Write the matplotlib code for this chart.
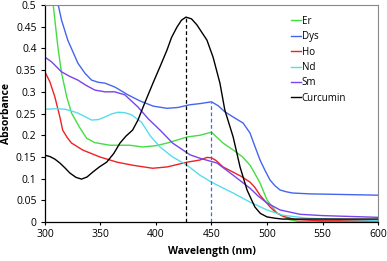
import numpy as np
import matplotlib.pyplot as plt

plt.rcParams['font.family'] = ['Open Sans', 'DejaVu Sans']

# wavelength (nm) / absorbance
er_x = [300, 304, 307.5, 309, 311.7, 315, 319.7, 324, 331.5, 337.6, 345, 358.6, 376.6, 388, 400, 410, 428, 439.6, 450, 460.4, 469.5, 478, 484.7, 489, 493.7, 500, 509, 520.7, 530, 550, 600]
er_y = [0.67, 0.56, 0.50, 0.465, 0.403, 0.343, 0.288, 0.251, 0.217, 0.193, 0.183, 0.177, 0.177, 0.173, 0.176, 0.182, 0.196, 0.200, 0.207, 0.182, 0.166, 0.150, 0.131, 0.112, 0.09, 0.051, 0.021, 0.005, 0.001, 0.002, 0.003]

dys_x = [300, 306, 312, 315, 320.6, 329.7, 336, 342, 348, 354, 363, 374.8, 385.6, 397.6, 410, 420, 430, 440, 450, 456, 462, 469.5, 478.5, 484.7, 489, 493.7, 498, 502.7, 507, 511.7, 517, 523, 538.7, 560, 580, 600]
dys_y = [0.60, 0.55, 0.50, 0.465, 0.419, 0.366, 0.343, 0.327, 0.322, 0.32, 0.311, 0.293, 0.279, 0.267, 0.262, 0.264, 0.27, 0.273, 0.277, 0.268, 0.254, 0.242, 0.228, 0.205, 0.175, 0.143, 0.12, 0.097, 0.084, 0.074, 0.07, 0.067, 0.065, 0.064, 0.063, 0.062]

ho_x = [300, 304.5, 309, 313.5, 316, 320, 324, 334, 349.5, 365, 379, 397, 410, 428, 439.6, 446, 450, 454, 460.4, 469.5, 477, 484.7, 489, 493.7, 502.7, 508, 514, 525, 550, 600]
ho_y = [0.346, 0.323, 0.288, 0.242, 0.212, 0.195, 0.182, 0.166, 0.150, 0.138, 0.131, 0.124, 0.127, 0.138, 0.143, 0.149, 0.148, 0.142, 0.127, 0.115, 0.105, 0.092, 0.08, 0.062, 0.035, 0.022, 0.014, 0.006, 0.003, 0.003]

nd_x = [300, 310, 318, 324, 329.7, 336, 342, 348, 354, 360, 365.8, 372, 378, 387, 395, 403.6, 415, 428, 439.6, 450, 460, 469.5, 484.7, 500, 514, 536, 570, 600]
nd_y = [0.26, 0.261, 0.26, 0.256, 0.251, 0.243, 0.235, 0.236, 0.242, 0.249, 0.253, 0.252, 0.247, 0.23, 0.198, 0.173, 0.15, 0.131, 0.108, 0.092, 0.079, 0.067, 0.046, 0.028, 0.016, 0.009, 0.006, 0.004]

sm_x = [300, 306, 315, 322, 329.7, 337, 345, 354, 363, 372, 383.8, 393, 403.6, 415, 430.6, 439.6, 455, 469.5, 484.7, 492, 500, 511.7, 529.7, 550, 575, 600]
sm_y = [0.38, 0.369, 0.346, 0.336, 0.327, 0.315, 0.304, 0.30, 0.30, 0.293, 0.265, 0.238, 0.212, 0.182, 0.155, 0.147, 0.136, 0.108, 0.078, 0.06, 0.044, 0.028, 0.018, 0.015, 0.013, 0.011]

cur_x = [300, 304.5, 309, 313.5, 318, 322.5, 328, 333, 338, 343, 349, 355.6, 362, 367.6, 373, 379, 383.8, 390, 397.3, 404, 409.9, 414, 418.9, 423, 427, 432, 436.9, 441, 445.9, 451.4, 457.6, 462, 469.5, 475.7, 482, 489, 494, 500, 507, 514, 530, 550, 600]
cur_y = [0.154, 0.151, 0.145, 0.136, 0.125, 0.113, 0.103, 0.099, 0.104, 0.115, 0.127, 0.138, 0.158, 0.182, 0.198, 0.212, 0.235, 0.275, 0.32, 0.36, 0.396, 0.425, 0.449, 0.465, 0.472, 0.468, 0.454, 0.438, 0.419, 0.38, 0.32, 0.258, 0.196, 0.127, 0.074, 0.035, 0.02, 0.012, 0.009, 0.007, 0.007, 0.007, 0.007]

peak_cur = (427, 0.472)
peak_dys = (450, 0.277)

fig = plt.figure(figsize=(3.87, 2.61), dpi=100)
ax = fig.add_axes([0.116, 0.149, 0.861, 0.832])

ax.plot(er_x, er_y, color='#44dd44', lw=1, label='Er')
ax.plot(dys_x, dys_y, color='#4466ee', lw=1, label='Dys')
ax.plot(ho_x, ho_y, color='#ee2222', lw=1, label='Ho')
ax.plot(nd_x, nd_y, color='#55ddee', lw=1, label='Nd')
ax.plot(sm_x, sm_y, color='#7744ee', lw=1, label='Sm')
ax.plot(cur_x, cur_y, color='black', lw=1, label='Curcumin')

ax.plot([peak_cur[0]] * 2, [0, peak_cur[1]], color='black', lw=0.9, ls=(0, (3, 2)))
ax.plot([peak_dys[0]] * 2, [0, peak_dys[1]], color='#4466ee', lw=0.9, ls=(0, (3, 2)))

ax.set_xlim(300, 600)
ax.set_ylim(0, 0.5)
ax.set_xticks([300, 350, 400, 450, 500, 550, 600])
ax.set_yticks(np.arange(0, 0.51, 0.05))
ax.set_yticklabels(['0', '0.05', '0.1', '0.15', '0.2', '0.25', '0.3', '0.35', '0.4', '0.45', '0.5'])
ax.tick_params(labelsize=7.5, length=3, width=0.8, pad=3)
ax.tick_params(axis='x', length=2)
for s in ['top', 'right']:
    ax.spines[s].set_color('#888888')
ax.spines['left'].set_linewidth(0.9)
ax.spines['bottom'].set_linewidth(0.9)

ax.set_xlabel('Wavelength (nm)', fontsize=7.5, fontweight='bold', labelpad=4)
ax.set_ylabel('Absorbance', fontsize=7.5, fontweight='bold', labelpad=3)

ax.legend(loc='upper right', frameon=False, fontsize=7, handlelength=1.0,
          handletextpad=0.1, labelspacing=0.45, bbox_to_anchor=(0.93, 0.99))

fig.savefig('out.png', dpi=100)
